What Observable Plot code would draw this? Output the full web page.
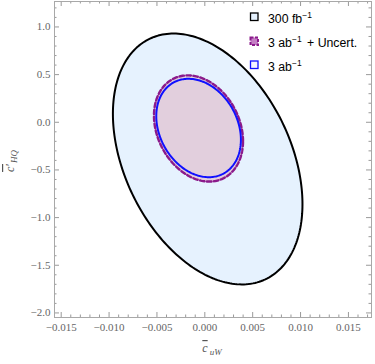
<!DOCTYPE html>
<html><head><meta charset="utf-8">
<script src="https://cdn.jsdelivr.net/npm/d3@7"></script>
<script src="https://cdn.jsdelivr.net/npm/@observablehq/plot@0.6"></script>
<style>body{margin:0;background:#fff} #chart{width:375px;height:364px}</style>
</head><body><div id="chart"></div>
<script>
// ---- data ----
const xTicks = [-0.015, -0.010, -0.005, 0.000, 0.005, 0.010, 0.015];
const yTicks = [-2.0, -1.5, -1.0, -0.5, 0.0, 0.5, 1.0];
const xMinorStep = 0.001;
const yMinorStep = 0.1;
const seriesNames = ["300 fb", "3 ab", "3 ab"];
const seriesSuffix = ["", " + Uncert.", ""];
// ellipse parameters: centre, half extents, correlation
const centerX = [0.0003, -0.00066, -0.00065];
const centerY = [-0.385, -0.065, -0.06];
const halfWidthX = [0.0099, 0.00465, 0.00442];
const halfHeightY = [1.316, 0.557, 0.516];
const correlation = [-0.36, -0.24, -0.24];
const fills = ["#e6f2fe", "#e2cfdd", "none"];
const strokes = ["#000000", "#8b1a8b", "#1010ff"];
const dashes = [null, "4.5,2.5", null];
const widths = [2, 2.4, 2];

// ---- build ----
const W = 375, H = 364, mL = 54, mR = 4, mT = 1, mB = 47;
const innerW = W - mL - mR, innerH = H - mT - mB;
const xDomain = [-0.0157, 0.01741], yDomain = [-2.048, 1.267];

function ellipse(i) {
  const pts = [];
  const r = correlation[i], s = Math.sqrt(1 - r * r);
  for (let k = 0; k < 240; k++) {
    const t = 2 * Math.PI * k / 240;
    pts.push({x: centerX[i] + halfWidthX[i] * Math.cos(t),
              y: centerY[i] + halfHeightY[i] * (r * Math.cos(t) + s * Math.sin(t))});
  }
  return pts;
}

const xMajor = new Set(xTicks.map(v => Math.round(v * 1000)));
const yMajor = new Set(yTicks.map(v => Math.round(v * 10)));
const xAll = d3.range(Math.ceil(xDomain[0] / xMinorStep), Math.floor(xDomain[1] / xMinorStep) + 1).map(i => +(i * xMinorStep).toFixed(4));
const yAll = d3.range(Math.ceil(yDomain[0] / yMinorStep), Math.floor(yDomain[1] / yMinorStep) + 1).map(i => +(i * yMinorStep).toFixed(2));
const xMin = xAll.filter(v => !xMajor.has(Math.round(v * 1000)));
const yMin = yAll.filter(v => !yMajor.has(Math.round(v * 10)));

const tickColor = "#9a9a9a";
const marks = [];
[0, 1, 2].forEach(i => {
  marks.push(Plot.line(ellipse(i), {x: "x", y: "y", curve: "linear-closed",
    fill: fills[i], stroke: strokes[i], strokeWidth: widths[i],
    strokeDasharray: dashes[i] || undefined}));
});
// inward ticks on all four sides
const tk = (data, len, side) => side === "b" ? Plot.tickX(data, {x: d => d, insetTop: innerH - len, stroke: tickColor})
  : side === "t" ? Plot.tickX(data, {x: d => d, insetBottom: innerH - len, stroke: tickColor})
  : side === "l" ? Plot.tickY(data, {y: d => d, insetRight: innerW - len, stroke: tickColor})
  : Plot.tickY(data, {y: d => d, insetLeft: innerW - len, stroke: tickColor});
for (const s of ["b", "t"]) { marks.push(tk(xTicks, 5, s)); marks.push(tk(xMin, 2.5, s)); }
for (const s of ["l", "r"]) { marks.push(tk(yTicks, 5, s)); marks.push(tk(yMin, 2.5, s)); }
marks.push(Plot.frame({stroke: "#a8a8a8"}));
marks.push(Plot.axisX(xTicks, {anchor: "bottom", tickSize: 0, tickPadding: 6, tickFormat: d3.format(".3f"), label: null, fill: "#666", fontSize: 11, fontFamily: "'Liberation Serif', serif"}));
marks.push(Plot.axisY(yTicks, {anchor: "left", tickSize: 0, tickPadding: 4, tickFormat: d3.format(".1f"), label: null, fill: "#666", fontSize: 11, fontFamily: "'Liberation Serif', serif"}));

const svg = Plot.plot({
  width: W, height: H, marginLeft: mL, marginRight: mR, marginTop: mT, marginBottom: mB,
  x: {domain: xDomain}, y: {domain: yDomain},
  style: {fontFamily: "'Liberation Serif', serif", background: "#fff", overflow: "visible"},
  marks
});
document.getElementById("chart").appendChild(svg);

const S = d3.select(svg);
// axis titles
const xl = S.append("text").attr("x", 212).attr("y", 352).attr("text-anchor", "middle")
  .attr("font-family", "'Liberation Serif', serif").attr("font-style", "italic").attr("font-size", 12).attr("fill", "#555");
xl.append("tspan").style("text-decoration", "overline").text("c");
xl.append("tspan").attr("font-size", 9).attr("dy", 3).attr("dx", 2).text("uW");
const yl = S.append("text").attr("transform", "translate(14,161) rotate(-90)").attr("text-anchor", "middle")
  .attr("font-family", "'Liberation Serif', serif").attr("font-style", "italic").attr("font-size", 12).attr("fill", "#555");
yl.append("tspan").style("text-decoration", "overline").text("c\u2032");
yl.append("tspan").attr("font-size", 9).attr("dy", 3).attr("dx", 1).text("HQ");

// legend
const legFill = ["#e6f2fe", "#c47ec4", "#f4f4ff"];
const legY = [13, 37.5, 61];
const lg = S.append("g").attr("font-family", "'Liberation Sans', Arial, sans-serif").attr("font-size", 12.3)
  .attr("fill", "#000").attr("text-anchor", "start");
[0, 1, 2].forEach(i => {
  lg.append("rect").attr("x", 250.5).attr("y", legY[i]).attr("width", 7.5).attr("height", 7.5)
    .attr("fill", legFill[i]).attr("stroke", strokes[i]).attr("stroke-width", i === 1 ? 2 : 1.3)
    .attr("stroke-dasharray", i === 1 ? "3,1.5" : null);
  const t = lg.append("text").attr("x", 268).attr("y", legY[i] + 9.5).attr("text-anchor", "start");
  t.append("tspan").text(seriesNames[i]);
  t.append("tspan").attr("font-size", 8.5).attr("dy", -5).text("\u22121");
  if (seriesSuffix[i]) t.append("tspan").attr("dy", 5).attr("dx", 2).text(seriesSuffix[i]);
});
</script></body></html>
